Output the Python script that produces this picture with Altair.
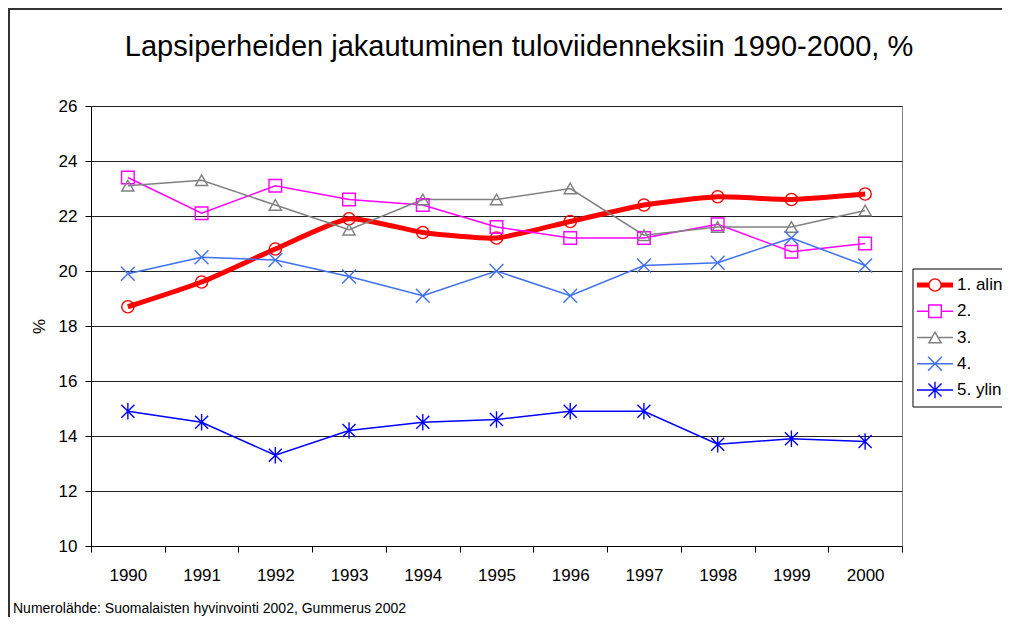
import altair as alt
import pandas as pd

years = [str(y) for y in range(1990, 2001)]
series = ["1. alin", "2.", "3.", "4.", "5. ylin"]
s1 = [18.7, 19.6, 20.8, 21.9, 21.4, 21.2, 21.8, 22.4, 22.7, 22.6, 22.8]
s2 = [23.4, 22.1, 23.1, 22.6, 22.4, 21.6, 21.2, 21.2, 21.7, 20.7, 21.0]
s3 = [23.1, 23.3, 22.4, 21.5, 22.6, 22.6, 23.0, 21.3, 21.6, 21.6, 22.2]
s4 = [19.9, 20.5, 20.4, 19.8, 19.1, 20.0, 19.1, 20.2, 20.3, 21.2, 20.2]
s5 = [14.9, 14.5, 13.3, 14.2, 14.5, 14.6, 14.9, 14.9, 13.7, 13.9, 13.8]
y_ticks = [10, 12, 14, 16, 18, 20, 22, 24, 26]

title_text = "Lapsiperheiden jakautuminen tuloviidenneksiin 1990-2000, %"
source_text = "Numerolähde: Suomalaisten hyvinvointi 2002, Gummerus 2002"

colors = ["#FF0000", "#FF00FF", "#808080", "#4070F0", "#0000FF"]
shapes = ["circle", "square", "triangle-up",
          "M-1,-1L1,1M-1,1L1,-1",
          "M-1,-1L1,1M-1,1L1,-1M0,-1.25L0,1.25"]
sizes = [150, 160, 150, 190, 170]
widths = [5, 1.5, 1.5, 1.5, 1.5]

FONT = "Liberation Sans"

rows = []
for name, vals in zip(series, [s1, s2, s3, s4, s5]):
    for yr, v in zip(years, vals):
        rows.append({"year": yr, "series": name, "value": v})
df = pd.DataFrame(rows)
leg = pd.DataFrame({"series": series})
one = pd.DataFrame({"title": [title_text], "source": [source_text]})

color_enc = alt.Color("series:N", scale=alt.Scale(type="ordinal", domain=series, range=colors), legend=None)
shape_enc = alt.Shape("series:N", scale=alt.Scale(type="ordinal", domain=series, range=shapes), legend=None)
size_enc = alt.Size("series:N", scale=alt.Scale(type="ordinal", domain=series, range=sizes), legend=None)
sw_enc = alt.StrokeWidth("series:N", scale=alt.Scale(type="ordinal", domain=series, range=widths), legend=None)

x_enc = alt.X("year:O", scale=alt.Scale(type="band", domain=years, paddingInner=0, paddingOuter=0),
              axis=alt.Axis(title=None, labelAngle=0, tickBand="extent", tickSize=6,
                            labelPadding=15, labelFontSize=17, labelFont=FONT,
                            labelColor="#000", domainColor="#000", tickColor="#000", grid=False))
y_scale = alt.Scale(domain=[10, 26], nice=False, zero=False)
y_axis = alt.Axis(values=y_ticks, title="%", titleFontSize=17, titleFont=FONT,
                  titleFontWeight="normal", titleColor="#000", titlePadding=10,
                  labelFontSize=17, labelFont=FONT, labelColor="#000", labelPadding=8,
                  tickSize=6, tickColor="#000", domainColor="#000",
                  grid=True, gridColor="#222", gridWidth=1)
y_enc = alt.Y("value:Q", scale=y_scale, axis=y_axis)

base = alt.Chart(df)
red_line = base.transform_filter(alt.datum.series == "1. alin").mark_line(
    interpolate="cardinal", tension=0.45, strokeWidth=5, color="#FF0000"
).encode(x=x_enc, y=y_enc)
other_lines = base.transform_filter(alt.datum.series != "1. alin").mark_line(
    strokeWidth=1.5
).encode(x=x_enc, y=y_enc, color=color_enc, detail="series:N")
points = base.mark_point(filled=False, strokeWidth=1.4, opacity=1).encode(
    x=x_enc, y=y_enc, color=color_enc, shape=shape_enc, size=size_enc)

main = alt.layer(red_line, other_lines, points)

# legend (manual, with line + marker symbols)
ly = alt.Y("series:N", scale=alt.Scale(type="point", domain=series, range=[179, 284], padding=0), axis=None)
leg_box = alt.Chart(one).mark_rect(fill="white", stroke="#000", strokeWidth=1).encode(
    x=alt.value(822), x2=alt.value(960), y=alt.value(163), y2=alt.value(301))
leg_lines = alt.Chart(leg).mark_rule().encode(
    x=alt.value(826), x2=alt.value(862), y=ly, color=color_enc, strokeWidth=sw_enc)
leg_pts = alt.Chart(leg).mark_point(filled=False, strokeWidth=1.4, opacity=1, fill="white").encode(
    x=alt.value(844), y=ly, color=color_enc, shape=shape_enc, size=size_enc)
leg_text = alt.Chart(leg).mark_text(align="left", baseline="middle", fontSize=17, font=FONT, color="#000").encode(
    x=alt.value(866), y=ly, text="series:N")
legend = alt.layer(leg_box, leg_lines, leg_pts, leg_text)

# decorations: frame, title, source note
frame_top = alt.Chart(one).mark_rule(color="#333", strokeWidth=2).encode(
    x=alt.value(-83), x2=alt.value(960), y=alt.value(-97))
frame_left = alt.Chart(one).mark_rule(color="#333", strokeWidth=2).encode(
    x=alt.value(-82), y=alt.value(-98), y2=alt.value(520))
title = alt.Chart(one).mark_text(fontSize=29, font=FONT, color="#000", align="center", baseline="alphabetic").encode(
    x=alt.value(428), y=alt.value(-50), text="title:N")
source = alt.Chart(one).mark_text(fontSize=14, font=FONT, color="#000", align="left", baseline="middle").encode(
    x=alt.value(-78), y=alt.value(503), text="source:N")
deco = alt.layer(frame_top, frame_left, title, source)

chart = alt.layer(main, legend, deco).resolve_scale(
    y="independent", x="independent"
).properties(
    width=811, height=440,
    padding={"left": 83, "top": 98, "right": 100, "bottom": 71},
    autosize=alt.AutoSizeParams(type="none"),
    background="white",
).configure_view(stroke="#808080", strokeWidth=1)

chart.save("out.html", embed_options={"renderer": "svg", "actions": False})
